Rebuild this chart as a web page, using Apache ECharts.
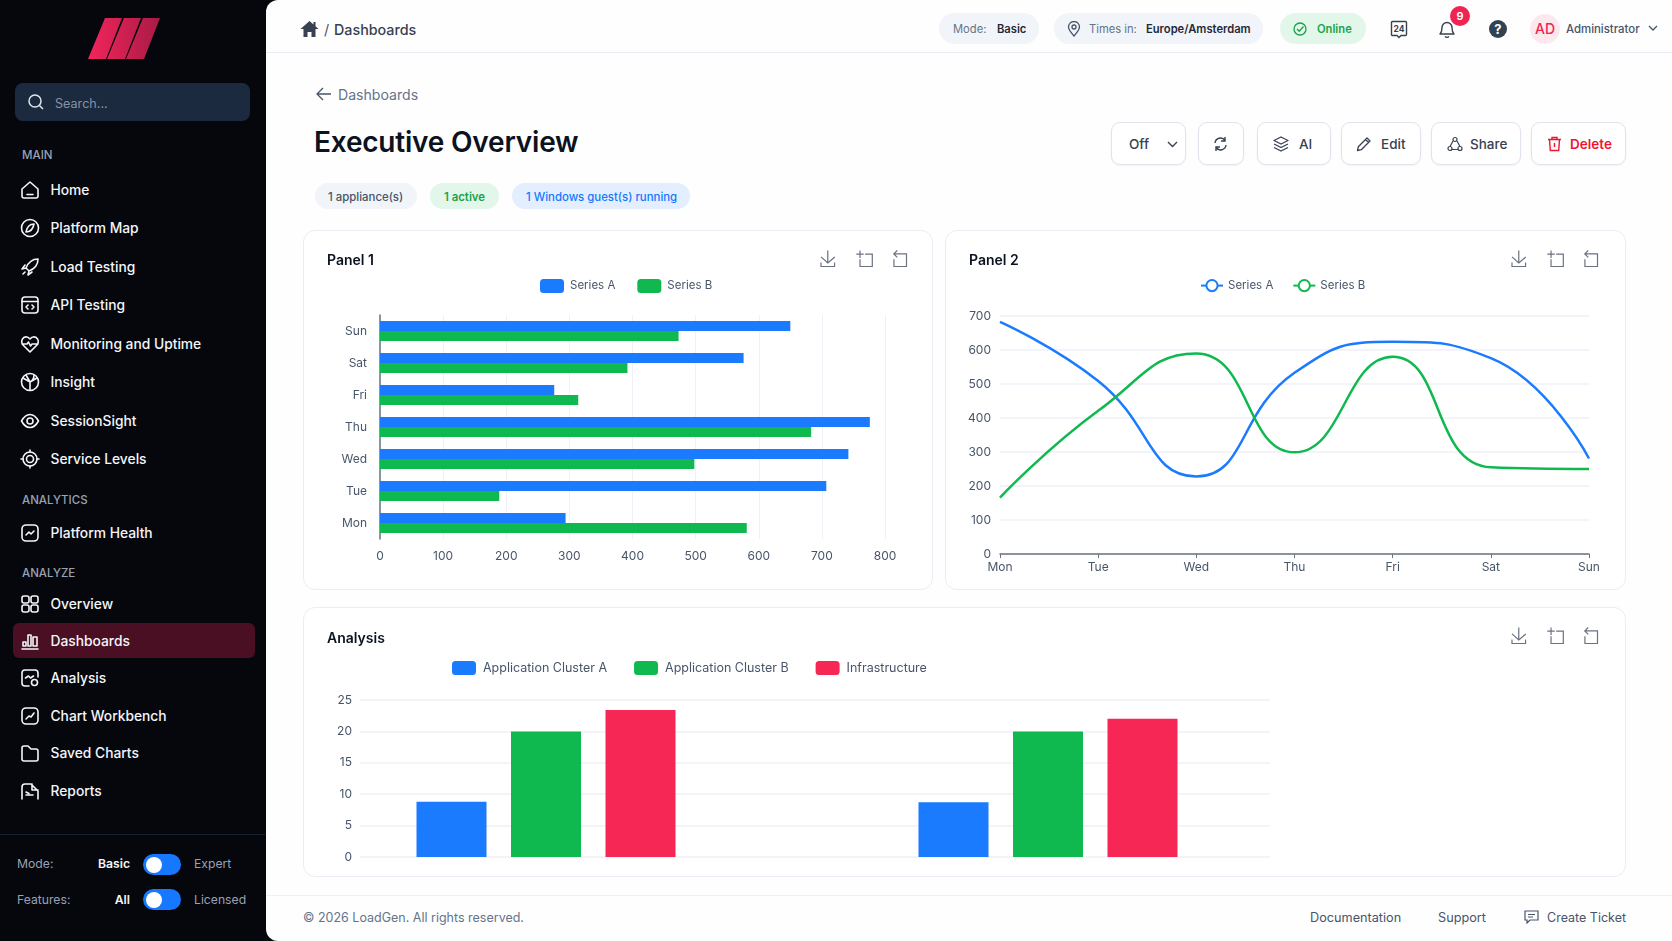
<!DOCTYPE html>
<html>
<head>
<meta charset="utf-8">
<title>Executive Overview</title>
<script src="https://cdn.jsdelivr.net/npm/echarts@6/dist/echarts.min.js"></script>
<style>
html, body { margin: 0; padding: 0; width: 1672px; height: 941px; overflow: hidden; background: #05070d; font-family: Inter, "Noto Sans", sans-serif; }
.a { position: absolute; white-space: nowrap; }
#main { position: absolute; left: 266px; top: 0; width: 1406px; height: 941px; background: #fefefe; border-radius: 12px 0 0 12px; }
.nav { position: absolute; left: 50.5px; color: #f4f6fa; font-size: 13.8px; font-weight: 500; line-height: 20px; transform: translateY(-10px); white-space: nowrap; }
.sec { position: absolute; left: 22px; color: #98a2b3; font-size: 11.5px; font-weight: 500; transform: translateY(-6px); }
.ic { position: absolute; left: 20px; width: 20px; height: 20px; transform: translateY(-10px); fill: none; stroke: #f4f6fa; stroke-width: 1.6; stroke-linecap: round; stroke-linejoin: round; }
.pill { position: absolute; border-radius: 16px; background: #f1f4f8; }
.t { position: absolute; white-space: nowrap; transform: translateY(-50%); }
.btn { position: absolute; top: 122px; height: 41px; border: 1.5px solid #dfe4ec; border-radius: 9px; background: #fff; box-shadow: 0 1px 2px rgba(30,40,60,.05); }
.card { position: absolute; background: #fff; border: 1px solid #e9edf4; border-radius: 12px; box-sizing: border-box; }
</style>
</head>
<body>
<!-- sidebar -->
<svg class="a" style="left:86px;top:16px" width="78" height="45" viewBox="86 16 78 45">
  <defs><linearGradient id="lg" x1="0" x2="1" y1="0" y2="0"><stop offset="0" stop-color="#f2255c"/><stop offset="1" stop-color="#a91b45"/></linearGradient></defs>
  <path fill="url(#lg)" d="M105 18h17l-16 41H88zM124 18h17l-16 41h-18zM143 18h17l-16 41h-18z"/>
</svg>
<div class="a" style="left:15px;top:83px;width:235px;height:38px;background:#1c2a3f;border-radius:8px"></div>
<svg class="a" style="left:27px;top:93px" width="18" height="18" viewBox="0 0 18 18" fill="none" stroke="#dfe5ee" stroke-width="1.5"><circle cx="8" cy="8" r="6"/><path d="M12.5 12.5L16 16"/></svg>
<div class="t" style="left:55px;top:103px;color:#8492a6;font-size:12.6px">Search...</div>

<div class="sec" style="top:154px">MAIN</div>
<div class="nav" style="top:190px">Home</div>
<div class="nav" style="top:228px">Platform Map</div>
<div class="nav" style="top:267px">Load Testing</div>
<div class="nav" style="top:305px">API Testing</div>
<div class="nav" style="top:344px">Monitoring and Uptime</div>
<div class="nav" style="top:382px">Insight</div>
<div class="nav" style="top:421px">SessionSight</div>
<div class="nav" style="top:459px">Service Levels</div>
<div class="sec" style="top:499px">ANALYTICS</div>
<div class="nav" style="top:533px">Platform Health</div>
<div class="sec" style="top:572px">ANALYZE</div>
<div class="nav" style="top:604px">Overview</div>
<div class="a" style="left:13px;top:623px;width:242px;height:35px;background:#4a0f22;border-radius:6px"></div>
<div class="nav" style="top:641px">Dashboards</div>
<div class="nav" style="top:678px">Analysis</div>
<div class="nav" style="top:716px">Chart Workbench</div>
<div class="nav" style="top:753px">Saved Charts</div>
<div class="nav" style="top:791px">Reports</div>

<svg class="ic" style="top:190px" viewBox="0 0 20 20"><path d="M2 9l8-7 8 7v7a2 2 0 0 1-2 2H4a2 2 0 0 1-2-2zM7 14.5h6"/></svg>
<svg class="ic" style="top:228px" viewBox="0 0 20 20"><circle cx="10" cy="10" r="8.5"/><path d="M14 6c-4 0-7 3-8 8 4 0 7-3 8-8z"/></svg>
<svg class="ic" style="top:267px" viewBox="0 0 20 20"><path d="M18 2c-6 0-10 4-12 9l3 3c5-2 9-6 9-12zM6 11l-4 1 3-4M9 14l-1 4 4-3M5 15l-2 2"/></svg>
<svg class="ic" style="top:305px" viewBox="0 0 20 20"><rect x="2" y="2" width="16" height="16" rx="3"/><path d="M2 6.5h16M8 10l-2 2 2 2M12 10l2 2-2 2"/></svg>
<svg class="ic" style="top:344px" viewBox="0 0 20 20"><path d="M10 18L3 11C0 7 3 2 7 3c1 0 2 1 3 2 1-1 2-2 3-2 4-1 7 4 4 8zM2 10h5l1.500-2 2 4 1.500-2h6"/></svg>
<svg class="ic" style="top:382px" viewBox="0 0 20 20"><circle cx="10" cy="10" r="8.500"/><path d="M3 6l7 4 7-4M10 10v8M6 3l4 7M14 3c0 4-2 6-4 7"/></svg>
<svg class="ic" style="top:421px" viewBox="0 0 20 20"><path d="M1.500 10C4 5.500 7 3.500 10 3.500S16 5.500 18.500 10C16 14.500 13 16.500 10 16.500S4 14.500 1.500 10z"/><circle cx="10" cy="10" r="3"/></svg>
<svg class="ic" style="top:459px" viewBox="0 0 20 20"><circle cx="10" cy="10" r="7"/><circle cx="10" cy="10" r="3.500"/><path d="M10 1v2M10 17v2M1 10h2M17 10h2"/></svg>
<svg class="ic" style="top:533px" viewBox="0 0 20 20"><rect x="2" y="2" width="16" height="16" rx="4"/><path d="M6 12l3-3 2 2 3-3"/></svg>
<svg class="ic" style="top:604px" viewBox="0 0 20 20"><rect x="2" y="2" width="7" height="7" rx="2"/><rect x="11" y="2" width="7" height="7" rx="2"/><rect x="2" y="11" width="7" height="7" rx="2"/><rect x="11" y="11" width="7" height="7" rx="2"/></svg>
<svg class="ic" style="top:641px" viewBox="0 0 20 20"><path d="M2 18h16M3 15v-4h3v4zM8 15V4h3v11zM13 15V6h4v9z"/></svg>
<svg class="ic" style="top:678px" viewBox="0 0 20 20"><path d="M9 18H5a3 3 0 0 1-3-3V5a3 3 0 0 1 3-3h10a3 3 0 0 1 3 3v4M5.500 10l3-2 2 2 3-2"/><circle cx="14.500" cy="14.500" r="3"/></svg>
<svg class="ic" style="top:716px" viewBox="0 0 20 20"><rect x="2" y="2" width="16" height="16" rx="4"/><path d="M6 13l3-3 2 1 3-4"/></svg>
<svg class="ic" style="top:753px" viewBox="0 0 20 20"><path d="M2 5a2 2 0 0 1 2-2h4l3 3h5a2 2 0 0 1 2 2v8a2 2 0 0 1-2 2H4a2 2 0 0 1-2-2z"/></svg>
<svg class="ic" style="top:791px" viewBox="0 0 20 20"><path d="M2 18V6a3 3 0 0 1 3-3h6l7 7v8M6 14h7M6 11l3 1.500M12 3v6h6"/></svg>

<div class="a" style="left:0;top:834px;width:265px;height:1px;background:#1a2230"></div>
<div class="t" style="left:17px;top:863px;color:#98a2b3;font-size:12.2px">Mode:</div>
<div class="t" style="right:1542px;top:863px;color:#f4f6fa;font-size:12.2px;font-weight:600">Basic</div>
<div class="a" style="left:143px;top:854px;width:38px;height:21px;border-radius:11px;background:#1677ff"></div>
<div class="a" style="left:146px;top:857px;width:16px;height:16px;border-radius:8px;background:#fff"></div>
<div class="t" style="left:194px;top:863px;color:#98a2b3;font-size:12.2px">Expert</div>
<div class="t" style="left:17px;top:899px;color:#98a2b3;font-size:12.2px">Features:</div>
<div class="t" style="right:1542px;top:899px;color:#f4f6fa;font-size:12.2px;font-weight:600">All</div>
<div class="a" style="left:143px;top:889px;width:38px;height:21px;border-radius:11px;background:#1677ff"></div>
<div class="a" style="left:146px;top:892px;width:16px;height:16px;border-radius:8px;background:#fff"></div>
<div class="t" style="left:194px;top:899px;color:#98a2b3;font-size:12.2px">Licensed</div>

<div id="main"></div>

<!-- top bar -->
<div class="a" style="left:266px;top:52px;width:1406px;height:1px;background:#e8edf5"></div>
<svg class="a" style="left:300px;top:20px" width="19" height="18" viewBox="0 0 19 18" fill="#374151"><path d="M9.500 1L0.500 9h3v8h4v-5h4v5h4V9h3l-3-2.700V2h-2v2.500z"/></svg>
<div class="t" style="left:324px;top:29px;color:#475569;font-size:14.3px">/</div>
<div class="t" style="left:334px;top:29px;color:#374151;font-size:14.3px;font-weight:500">Dashboards</div>

<div class="pill" style="left:939px;top:13px;width:100px;height:31px"></div>
<div class="t" style="left:953px;top:29px;color:#64748b;font-size:11.2px">Mode:</div>
<div class="t" style="left:997px;top:29px;color:#1f2937;font-size:11.2px;font-weight:600">Basic</div>
<div class="pill" style="left:1054px;top:13px;width:209px;height:31px"></div>
<svg class="a" style="left:1067px;top:21px" width="14" height="16" viewBox="0 0 14 16" fill="none" stroke="#475569" stroke-width="1.300"><path d="M7 15C3 10.500 1.500 8.500 1.500 6a5.500 5.500 0 0 1 11 0C12.500 8.500 11 10.500 7 15z"/><circle cx="7" cy="6" r="2"/></svg>
<div class="t" style="left:1089px;top:29px;color:#64748b;font-size:11.2px">Times in:</div>
<div class="t" style="left:1146px;top:29px;color:#1f2937;font-size:11.2px;font-weight:600">Europe/Amsterdam</div>
<div class="pill" style="left:1280px;top:13px;width:86px;height:31px;background:#e3f6ea"></div>
<svg class="a" style="left:1293px;top:22px" width="14" height="14" viewBox="0 0 14 14" fill="none" stroke="#16a34a" stroke-width="1.300"><circle cx="7" cy="7" r="6"/><path d="M4 7l2.200 2.200L10.500 4.500"/></svg>
<div class="t" style="left:1317px;top:29px;color:#16a34a;font-size:11.2px;font-weight:600">Online</div>
<svg class="a" style="left:1390px;top:20px" width="18" height="19" viewBox="0 0 18 19" fill="none" stroke="#374151" stroke-width="1.400"><path d="M2.500 1.500h13a1 1 0 0 1 1 1v12a1 1 0 0 1-1 1H11L9 17.500 7 15.500H2.500a1 1 0 0 1-1-1v-12a1 1 0 0 1 1-1z"/><text x="9" y="12" text-anchor="middle" font-size="8.500" font-weight="700" fill="#374151" stroke="none">24</text></svg>
<svg class="a" style="left:1437px;top:19px" width="20" height="20" viewBox="0 0 20 20" fill="none" stroke="#374151" stroke-width="1.400" stroke-linejoin="round"><path d="M3 15c1.500-1.500 2-3 2-6.500a5 5 0 0 1 10 0c0 3.500.5 5 2 6.500zM8 17.500c1 1 3 1 4 0"/></svg>
<div class="a" style="left:1450px;top:6px;width:20px;height:20px;border-radius:10px;background:#ee2452;color:#fff;font-size:11px;font-weight:600;line-height:20px;text-align:center">9</div>
<div class="a" style="left:1489px;top:20px;width:18px;height:18px;border-radius:9px;background:#334155;color:#fff;font-size:13px;font-weight:700;line-height:18px;text-align:center">?</div>
<div class="a" style="left:1530px;top:14px;width:30px;height:30px;border-radius:15px;background:#fde8ee;color:#ee2452;font-size:14px;font-weight:500;line-height:30px;text-align:center">AD</div>
<div class="t" style="left:1566px;top:29px;color:#475569;font-size:11.4px;font-weight:500">Administrator</div>
<svg class="a" style="left:1648px;top:25px" width="10" height="7" viewBox="0 0 10 7" fill="none" stroke="#475569" stroke-width="1.300"><path d="M1 1l4 4 4-4"/></svg>

<!-- page head -->
<svg class="a" style="left:316px;top:87px" width="16" height="14" viewBox="0 0 16 14" fill="none" stroke="#475569" stroke-width="1.300"><path d="M15 7H1M7 1L1 7l6 6"/></svg>
<div class="t" style="left:338px;top:94px;color:#64748b;font-size:14.1px">Dashboards</div>
<div class="t" style="left:314px;top:142px;color:#0b1220;font-size:28px;font-weight:600;letter-spacing:-.2px">Executive Overview</div>
<div class="pill" style="left:315px;top:183px;width:102px;height:26px"></div>
<div class="t" style="left:328px;top:197px;color:#475569;font-size:11.4px;font-weight:500">1 appliance(s)</div>
<div class="pill" style="left:430px;top:183px;width:69px;height:26px;background:#e3f6ea"></div>
<div class="t" style="left:444px;top:197px;color:#16a34a;font-size:11.4px;font-weight:600">1 active</div>
<div class="pill" style="left:512px;top:183px;width:178px;height:26px;background:#e3effe"></div>
<div class="t" style="left:526px;top:197px;color:#1677ff;font-size:11.4px;font-weight:500">1 Windows guest(s) running</div>

<div class="btn" style="left:1111px;width:73px"></div>
<div class="t" style="left:1129px;top:144px;color:#374151;font-size:13.5px;font-weight:500">Off</div>
<svg class="a" style="left:1167px;top:141px" width="11" height="7" viewBox="0 0 11 7" fill="none" stroke="#374151" stroke-width="1.400"><path d="M1 1l4.500 4.500L10 1"/></svg>
<div class="btn" style="left:1198px;width:44px"></div>
<svg class="a" style="left:1213px;top:136px" width="15" height="16" viewBox="0 0 15 16" fill="none" stroke="#374151" stroke-width="1.400"><path d="M2 7a5.500 5.500 0 0 1 10-2.500M13 9a5.500 5.500 0 0 1-10 2.500M12 1v4H8M3 15v-4h4"/></svg>
<div class="btn" style="left:1257px;width:72px"></div>
<svg class="a" style="left:1273px;top:136px" width="16" height="16" viewBox="0 0 16 16" fill="none" stroke="#374151" stroke-width="1.300" stroke-linejoin="round"><path d="M8 1l7 3.500L8 8 1 4.500zM1 8l7 3.500L15 8M1 11.500L8 15l7-3.500"/></svg>
<div class="t" style="left:1299px;top:144px;color:#374151;font-size:13.5px;font-weight:500">AI</div>
<div class="btn" style="left:1341px;width:78px"></div>
<svg class="a" style="left:1356px;top:136px" width="16" height="16" viewBox="0 0 16 16" fill="none" stroke="#374151" stroke-width="1.300" stroke-linejoin="round"><path d="M1.500 14.500l.8-3.700L11 2l3 3-8.700 8.700zM9.500 3.500l3 3"/></svg>
<div class="t" style="left:1381px;top:144px;color:#374151;font-size:13.5px;font-weight:500">Edit</div>
<div class="btn" style="left:1431px;width:88px"></div>
<svg class="a" style="left:1447px;top:136px" width="16" height="16" viewBox="0 0 16 16" fill="none" stroke="#374151" stroke-width="1.200"><circle cx="8" cy="3.500" r="2"/><circle cx="3" cy="12.500" r="2"/><circle cx="13" cy="12.500" r="2"/><path d="M6 5l-3 5.500M10 5l3 5.500M5 13.500h6"/></svg>
<div class="t" style="left:1470px;top:144px;color:#374151;font-size:13.5px;font-weight:500">Share</div>
<div class="btn" style="left:1531px;width:93px"></div>
<svg class="a" style="left:1547px;top:136px" width="15" height="16" viewBox="0 0 15 16" fill="none" stroke="#f0142f" stroke-width="1.400"><path d="M1 3.500h13M5 3.500V1.500h5v2M2.500 3.500l.8 11h8.400l.8-11M7.500 7v4"/></svg>
<div class="t" style="left:1570px;top:144px;color:#f0142f;font-size:13.5px;font-weight:600">Delete</div>

<!-- charts -->
<div id="panel1" class="card" style="left:303px;top:230px;width:630px;height:360px"></div>
<div id="panel2" class="card" style="left:945px;top:230px;width:681px;height:360px"></div>
<div id="panel3" class="card" style="left:303px;top:607px;width:1323px;height:270px"></div>

<!-- footer -->
<div class="a" style="left:266px;top:895px;width:1406px;height:1px;background:#edf0f5"></div>
<div class="t" style="left:303px;top:917px;color:#64748b;font-size:12.5px">© 2026 LoadGen. All rights reserved.</div>
<div class="t" style="left:1310px;top:917px;color:#475569;font-size:12.7px">Documentation</div>
<div class="t" style="left:1438px;top:917px;color:#475569;font-size:12.7px">Support</div>
<svg class="a" style="left:1524px;top:910px" width="15" height="14" viewBox="0 0 15 14" fill="none" stroke="#475569" stroke-width="1.200"><path d="M1 1h13v9H6l-3 3v-3H1zM4 4.500h7M4 7h5"/></svg>
<div class="t" style="left:1547px;top:917px;color:#475569;font-size:12.5px">Create Ticket</div>

<script>
var days = ['Mon', 'Tue', 'Wed', 'Thu', 'Fri', 'Sat', 'Sun'];

var barSeriesA = [294, 707, 742, 776, 276, 576, 650];
var barSeriesB = [581, 189, 498, 683, 314, 392, 473];

var lineSeriesA = [683, 509, 228, 533, 624, 576, 281];
var lineSeriesB = [166, 421, 590, 299, 580, 255, 250];

var groups = ['Group 1', 'Group 2'];
var clusterA = [8.8, 8.7];
var clusterB = [20, 20];
var infrastructure = [23.4, 22];

var BLUE = '#1a7bff';
var GREEN = '#10b950';
var RED = '#f62755';
var GRID = '#eef1f7';
var AXIS = '#6b7280';
var LABEL = '#475569';
var FONT = 'Inter, "Noto Sans", sans-serif';

function titleOf(text, left, top) {
	return {
		text: text,
		left: left,
		top: top,
		padding: 0,
		textStyle: { fontFamily: FONT, fontSize: 14, fontWeight: 600, color: '#0b1220' }
	};
}

function toolboxOf(right, top) {
	return {
		right: right,
		top: top,
		padding: 0,
		itemSize: 16,
		itemGap: 16.5,
		iconStyle: { borderColor: AXIS, borderWidth: 1.2 },
		feature: {
			saveAsImage: {},
			dataZoom: { yAxisIndex: false }
		}
	};
}

var panel1 = echarts.init(document.getElementById('panel1'));
panel1.setOption({
	animation: false,
	textStyle: { fontFamily: FONT },
	title: titleOf('Panel 1', 23, 23),
	toolbox: toolboxOf(23, 17),
	legend: {
		left: 236,
		top: 48,
		padding: 0,
		itemWidth: 24,
		itemHeight: 14,
		itemGap: 22,
		itemStyle: { borderRadius: 4 },
		textStyle: { fontFamily: FONT, fontSize: 11.5, color: LABEL, padding: [0, 0, 0, 1] }
	},
	grid: { left: 76, top: 84, width: 505, height: 224 },
	xAxis: {
		type: 'value',
		min: 0,
		max: 800,
		interval: 100,
		axisLine: { show: false },
		axisTick: { show: false },
		axisLabel: { color: LABEL, fontSize: 12, margin: 11 },
		splitLine: { lineStyle: { color: GRID } }
	},
	yAxis: {
		type: 'category',
		data: days,
		axisLine: { lineStyle: { color: AXIS, width: 1.5 } },
		axisTick: { length: 5, lineStyle: { color: AXIS } },
		axisLabel: { color: LABEL, fontSize: 12, margin: 13 }
	},
	series: [
		{ name: 'Series A', type: 'bar', data: barSeriesA, barWidth: 10, barGap: 0, itemStyle: { color: BLUE } },
		{ name: 'Series B', type: 'bar', data: barSeriesB, barWidth: 10, barGap: 0, itemStyle: { color: GREEN } }
	]
});

var panel2 = echarts.init(document.getElementById('panel2'));
panel2.setOption({
	animation: false,
	textStyle: { fontFamily: FONT },
	title: titleOf('Panel 2', 23, 23),
	toolbox: toolboxOf(25, 17),
	legend: {
		left: 254,
		top: 48,
		padding: 0,
		itemWidth: 22,
		itemHeight: 14,
		itemGap: 19,
		textStyle: { fontFamily: FONT, fontSize: 11.5, color: LABEL }
	},
	grid: { left: 54, top: 85, width: 589, height: 238 },
	xAxis: {
		type: 'category',
		data: days,
		boundaryGap: false,
		axisLine: { lineStyle: { color: AXIS, width: 1.5 } },
		axisTick: { length: 4, lineStyle: { color: AXIS } },
		axisLabel: { color: LABEL, fontSize: 12, margin: 7 }
	},
	yAxis: {
		type: 'value',
		min: 0,
		max: 700,
		interval: 100,
		axisLine: { show: false },
		axisTick: { show: false },
		axisLabel: { color: LABEL, fontSize: 12, margin: 9 },
		splitLine: { lineStyle: { color: GRID, width: 1.5 } }
	},
	series: [
		{ name: 'Series A', type: 'line', smooth: true, showSymbol: false, data: lineSeriesA, lineStyle: { color: BLUE, width: 2.5 }, itemStyle: { color: BLUE } },
		{ name: 'Series B', type: 'line', smooth: true, showSymbol: false, data: lineSeriesB, lineStyle: { color: GREEN, width: 2.5 }, itemStyle: { color: GREEN } }
	]
});

var panel3 = echarts.init(document.getElementById('panel3'));
panel3.setOption({
	animation: false,
	textStyle: { fontFamily: FONT },
	title: titleOf('Analysis', 23, 24),
	toolbox: toolboxOf(25, 17),
	legend: {
		left: 148,
		top: 53,
		padding: 0,
		itemWidth: 24,
		itemHeight: 14,
		itemGap: 27,
		itemStyle: { borderRadius: 4 },
		textStyle: { fontFamily: FONT, fontSize: 12.5, color: LABEL, padding: [0, 0, 0, 2] }
	},
	// the bars sit off-centre against the gridlines, so they get their own grid
	grid: [
		{ left: 56, top: 92, width: 910, height: 157 },
		{ left: -9, top: 92, width: 1004, height: 157, outerBoundsMode: 'none' }
	],
	xAxis: [
		{ type: 'category', gridIndex: 0, data: groups, show: false },
		{ type: 'category', gridIndex: 1, data: groups, show: false }
	],
	yAxis: [
		{
			type: 'value',
			gridIndex: 0,
			min: 0,
			max: 25,
			interval: 5,
			axisLine: { show: false },
			axisTick: { show: false },
			axisLabel: { color: LABEL, fontSize: 12, margin: 8 },
			splitLine: { lineStyle: { color: GRID, width: 1.5 } }
		},
		{ type: 'value', gridIndex: 1, min: 0, max: 25, show: false, splitLine: { show: false } }
	],
	series: [
		{ name: 'Application Cluster A', type: 'bar', xAxisIndex: 1, yAxisIndex: 1, data: clusterA, barWidth: 70, barGap: '35%', itemStyle: { color: BLUE } },
		{ name: 'Application Cluster B', type: 'bar', xAxisIndex: 1, yAxisIndex: 1, data: clusterB, barWidth: 70, barGap: '35%', itemStyle: { color: GREEN } },
		{ name: 'Infrastructure', type: 'bar', xAxisIndex: 1, yAxisIndex: 1, data: infrastructure, barWidth: 70, barGap: '35%', itemStyle: { color: RED } }
	]
});
</script>
</body>
</html>
